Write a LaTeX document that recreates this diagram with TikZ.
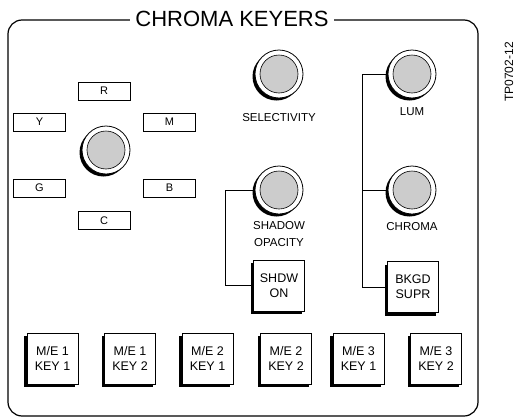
\documentclass[tikz,border=0pt]{standalone}
\usepackage{fontspec}
\setmainfont{Liberation Sans}
\usetikzlibrary{positioning, shadows, calc}
\tikzset{
  knob/.style={circle, draw, line width=0.8pt, fill=white, minimum size=48pt, inner sep=0pt,
    drop shadow={shadow xshift=-2.5pt, shadow yshift=-2.5pt, fill=black, opacity=1},
    path picture={\draw[line width=0.6pt, fill=black!20] (path picture bounding box.center) circle (19pt);}},
  keybtn/.style={rectangle, draw, line width=0.8pt, fill=white, minimum size=51pt, inner sep=0pt, align=center,
    font=\fontsize{12.5}{15}\selectfont,
    drop shadow={shadow xshift=-3pt, shadow yshift=-3pt, fill=black, opacity=1}},
  huebox/.style={rectangle, draw, line width=0.7pt, minimum width=52pt, minimum height=18pt, inner sep=0pt,
    font=\fontsize{11}{13}\selectfont},
  lbl/.style={align=center, font=\fontsize{11.5}{17}\selectfont},
  wire/.style={line width=0.9pt}
}

\begin{document}
\begin{tikzpicture}[x=1pt, y=-1pt]
    \useasboundingbox (0,0) rectangle (515,418);

    % 1. Panel y titulo
    \draw[line width=1.2pt, rounded corners=14pt] (8,20) rectangle (478,416);
    \node[fill=white, inner xsep=5pt, font=\fontsize{22}{26}\selectfont] (title) at (232,19) {CHROMA KEYERS};
    \node[rotate=90, font=\fontsize{12}{14}\selectfont] (tpno) at (509,72) {TP0702-12};

    % 2. Selector de color (joystick)
    \node[knob] (hue) at (106,150) {};
    \foreach \n/\x/\y in {R/104/91, Y/39.5/122, M/169.5/122, G/39.5/188, B/169.5/188, C/104/220.5} {
        \node[huebox] (box\n) at (\x,\y) {\n};
    }

    % 3. Perillas
    \node[knob] (sel) at (279,74) {};
    \node[lbl] (sellbl) at (279,118) {SELECTIVITY};
    \node[knob] (opac) at (279,190) {};
    \node[lbl] (opaclbl) at (279,234) {SHADOW\\OPACITY};
    \node[knob] (lum) at (412,74) {};
    \node[lbl] (lumlbl) at (412,112) {LUM};
    \node[knob] (chroma) at (412,190) {};
    \node[lbl] (chromalbl) at (412,227) {CHROMA};

    % 4. Botones
    \node[keybtn] (shdw) at (279,285.5) {SHDW\\ON};
    \node[keybtn] (bkgd) at (413,287) {BKGD\\SUPR};
    \foreach \i/\x/\me/\k in {1/52.5/1/1, 2/130/1/2, 3/207.5/2/1, 4/286/2/2, 5/358.5/3/1, 6/436/3/2} {
        \node[keybtn] (key\i) at (\x,358.5) {M/E \me\\KEY \k};
    }

    % -------------------------------------------------------------
    % CONEXIONES
    % -------------------------------------------------------------
    \draw[wire] (opac.west) -- ++(-29,0) |- (shdw.west);
    \draw[wire] (lum.west) -- ++(-25,0) |- (bkgd.west);
    \draw[wire] (chroma.west) -- ++(-25,0);

\end{tikzpicture}
\end{document}
